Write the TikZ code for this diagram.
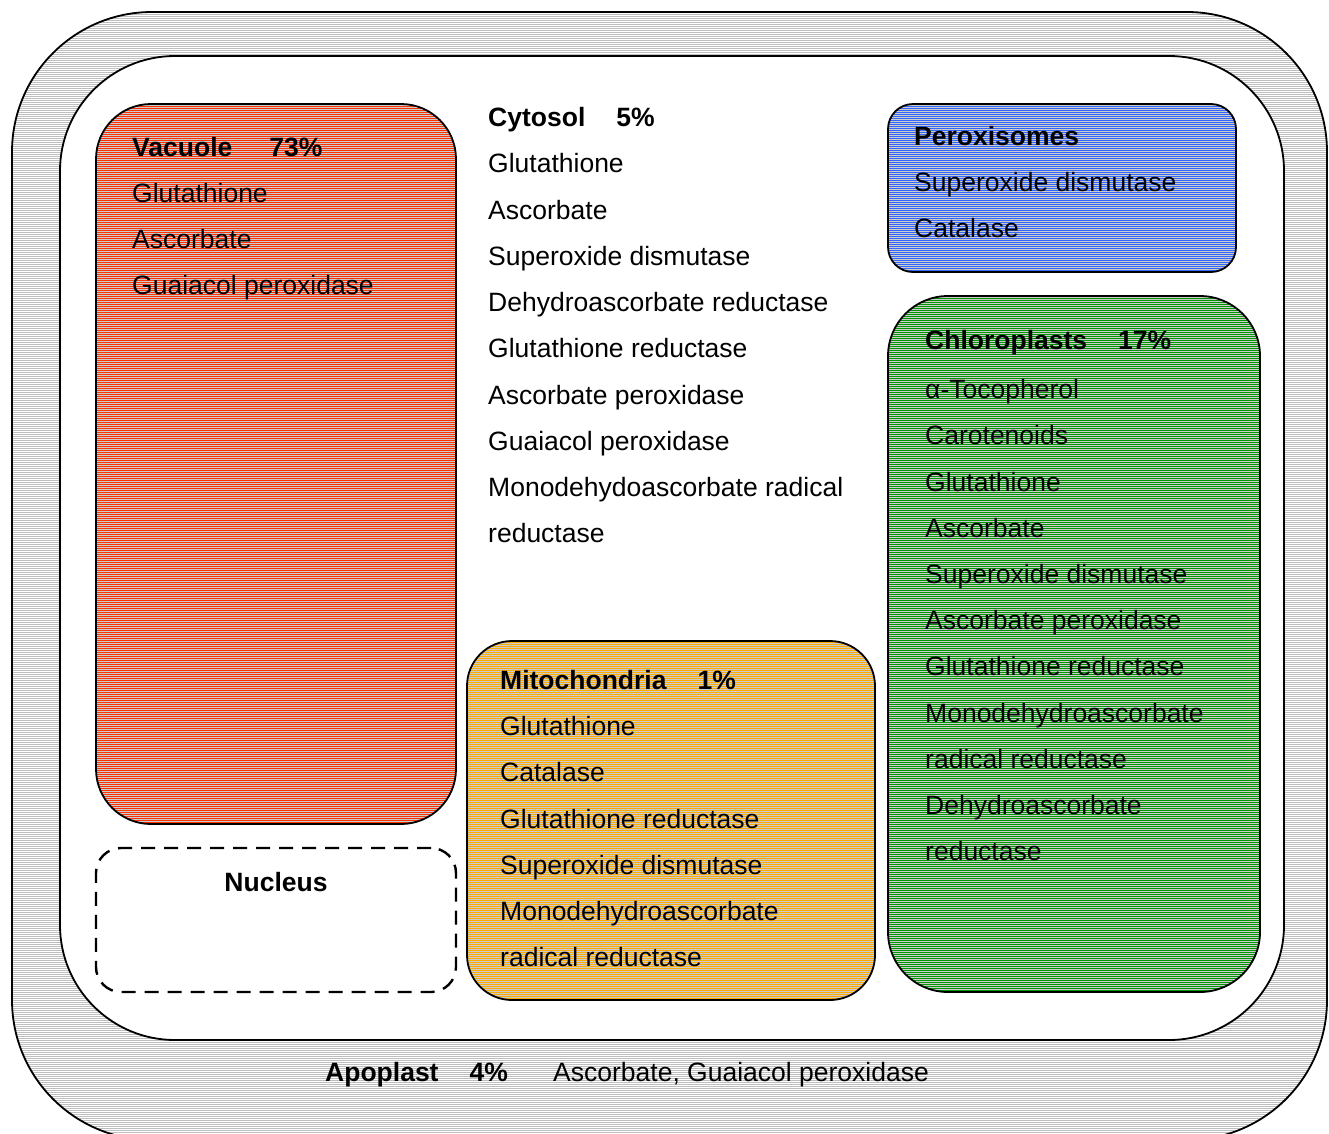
\documentclass[tikz,border=0pt]{standalone}
\usepackage{fontspec}
\setmainfont{Liberation Sans}
\definecolor{vacred}{RGB}{255,51,0}
\definecolor{perblue}{RGB}{51,102,255}
\definecolor{mitoorange}{RGB}{255,172,0}
\definecolor{chlgreen}{RGB}{0,150,0}
\definecolor{ringgray}{RGB}{190,190,190}
\begin{document}
\begin{tikzpicture}[x=1pt,y=-1pt,font=\fontsize{26.5}{32}\selectfont,
    organelle/.style={draw=black,line width=1.8pt,inner sep=0pt,fill=black!20},
    lined/.style={path picture={
        \foreach \s in {-700,-698,...,700}
          \draw[#1,line width=1pt]
            ([yshift=\s pt]path picture bounding box.west) --
            ([yshift=\s pt]path picture bounding box.east);}},
    entry/.style={anchor=base west,inner sep=0pt},
    heading/.style={entry,font=\fontsize{26.5}{32}\selectfont\bfseries}]
  \useasboundingbox (0,0) rectangle (1329,1133);
  \fill[white] (0,0) rectangle (1329,1133);
  \clip (0,0) rectangle (1329,1133);
  % cell wall and cell
  \node[organelle,fill=white,lined=ringgray,rounded corners=140pt,
    minimum width=1315pt,minimum height=1128pt] (wall) at (669.5,576) {};
  \node[draw=black,line width=1.8pt,fill=white,rounded corners=115pt,
    minimum width=1224pt,minimum height=984pt] (cell) at (672,548) {};
  % compartments
  \node[organelle,lined=vacred,rounded corners=55pt,
    minimum width=360pt,minimum height=720pt] (vacuole) at (276,464) {};
  \node[draw=black,line width=2.4pt,dash pattern=on 14pt off 9pt,
    rounded corners=25pt,minimum width=360pt,minimum height=144pt]
    (nucleus) at (276,920) {};
  \node[organelle,lined=perblue,rounded corners=25pt,
    minimum width=348pt,minimum height=168pt] (perox) at (1062,188) {};
  \node[organelle,lined=chlgreen,rounded corners=60pt,
    minimum width=372pt,minimum height=696pt] (chloro) at (1074,644) {};
  \node[organelle,lined=mitoorange,rounded corners=45pt,
    minimum width=408pt,minimum height=359pt] (mito) at (671,820.5) {};
  % labels
  \node[heading] (vac-t) at (132,156.5) {Vacuole\hspace{37pt}73\%};
  \foreach \t [count=\i] in {Glutathione,Ascorbate,Guaiacol peroxidase}
    \node[entry] (vac-\i) at (132,{156.5+46*\i}) {\t};
  \node[heading] (cyt-t) at (488,126.5) {Cytosol\hspace{31pt}5\%};
  \foreach \t [count=\i] in {Glutathione,Ascorbate,Superoxide dismutase,
      Dehydroascorbate reductase,Glutathione reductase,Ascorbate peroxidase,
      Guaiacol peroxidase,Monodehydoascorbate radical,reductase}
    \node[entry] (cyt-\i) at (488,{126.5+46.25*\i}) {\t};
  \node[heading] (per-t) at (914,145.5) {Peroxisomes};
  \foreach \t [count=\i] in {Superoxide dismutase,Catalase}
    \node[entry] (per-\i) at (914,{145.5+46*\i}) {\t};
  \node[heading] (chl-t) at (925,349.5) {Chloroplasts\hspace{31pt}17\%};
  \foreach \t [count=\i] in {α-Tocopherol,Carotenoids,Glutathione,Ascorbate,
      Superoxide dismutase,Ascorbate peroxidase,Glutathione reductase,
      Monodehydroascorbate,radical reductase,Dehydroascorbate,reductase}
    \node[entry] (chl-\i) at (925,{352.5+46.2*\i}) {\t};
  \node[heading] (mit-t) at (500,689.5) {Mitochondria\hspace{31pt}1\%};
  \foreach \t [count=\i] in {Glutathione,Catalase,Glutathione reductase,
      Superoxide dismutase,Monodehydroascorbate,radical reductase}
    \node[entry] (mit-\i) at (500,{689.5+46.2*\i}) {\t};
  \node[heading,anchor=base] (nuc-t) at (276,891.5) {Nucleus};
  \node[heading] (apo-t) at (325,1081.5) {Apoplast\hspace{31pt}4\%};
  \node[entry] (apo-1) at (553,1081.5) {Ascorbate, Guaiacol peroxidase};
\end{tikzpicture}
\end{document}
